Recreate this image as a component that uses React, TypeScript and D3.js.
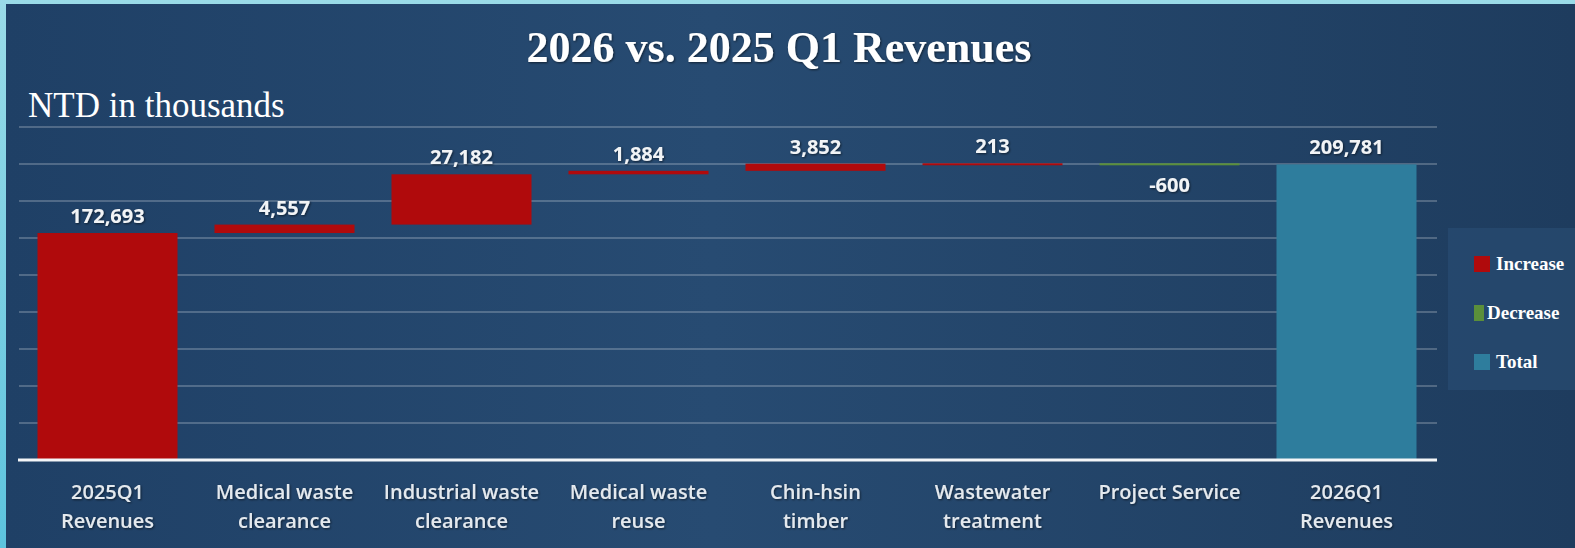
import React from "react";
import * as d3 from "d3";

const categories = [
  ["2025Q1", "Revenues"],
  ["Medical waste", "clearance"],
  ["Industrial waste", "clearance"],
  ["Medical waste", "reuse"],
  ["Chin-hsin", "timber"],
  ["Wastewater", "treatment"],
  ["Project Service", ""],
  ["2026Q1", "Revenues"],
];
const values = [172693, 4557, 27182, 1884, 3852, 213, -600, 209781];
const kinds = ["increase", "increase", "increase", "increase", "increase", "increase", "decrease", "total"];
const gridTicks = [50000, 70000, 90000, 110000, 130000, 150000, 170000, 190000, 210000, 230000];
const legendItems = [
  { key: "increase", label: "Increase" },
  { key: "decrease", label: "Decrease" },
  { key: "total", label: "Total" },
];

const W = 1575;
const H = 548;
const colors: Record<string, string> = {
  increase: "#b00a0c",
  decrease: "#5b8f3a",
  total: "#2e7d9d",
};

export default function App() {
  const x = d3
    .scaleBand<number>()
    .domain(d3.range(categories.length))
    .range([19, 1435])
    .paddingInner(0.209)
    .paddingOuter(0.1045);
  const y = d3.scaleLinear().domain([50000, 230000]).range([460, 127]);

  // waterfall: running start/end for every step
  let run = 0;
  const bars = values.map((v, i) => {
    let lo: number, hi: number;
    if (kinds[i] === "total") {
      lo = 0;
      hi = v;
      run = v;
    } else {
      lo = Math.min(run, run + v);
      hi = Math.max(run, run + v);
      run += v;
    }
    return { i, v, lo, hi, kind: kinds[i] };
  });

  const fmt = (v: number) => d3.format(",")(v).replace("\u2212", "-");
  const yc = (v: number) => Math.min(y(Math.max(v, y.domain()[0])), 460);

  return (
    <svg width={W} height={H} style={{ position: "absolute", left: 0, top: 0, display: "block" }}>
      <defs>
        <linearGradient id="bg" x1="0" x2="1" y1="0" y2="0">
          <stop offset="0" stopColor="#1f4066" />
          <stop offset="0.45" stopColor="#274b72" />
          <stop offset="1" stopColor="#1e3c5e" />
        </linearGradient>
        <linearGradient id="edge" x1="0" x2="0" y1="0" y2="1">
          <stop offset="0" stopColor="#9adbe8" />
          <stop offset="1" stopColor="#5cc3de" />
        </linearGradient>
        <filter id="sh" x="-20%" y="-30%" width="140%" height="160%">
          <feDropShadow dx="1" dy="1" stdDeviation="1" floodColor="#000" floodOpacity="0.55" />
        </filter>
      </defs>
      <rect width={W} height={H} fill="url(#edge)" />
      <rect x={6} y={4} width={W - 6} height={H - 4} fill="url(#bg)" />

      <text
        x={779}
        y={62}
        textAnchor="middle"
        fontFamily="'Liberation Serif', serif"
        fontWeight="bold"
        fontSize={44}
        fill="#ffffff"
        filter="url(#sh)"
      >
        2026 vs. 2025 Q1 Revenues
      </text>
      <text x={28} y={117} fontFamily="'Liberation Serif', serif" fontSize={35} fill="#ffffff">
        NTD in thousands
      </text>

      {gridTicks.slice(1).map((t) => (
        <line key={t} x1={19} x2={1437} y1={y(t)} y2={y(t)} stroke="#ffffff" strokeOpacity={0.22} strokeWidth={2} />
      ))}

      {bars.map((b) => {
        const top = yc(b.hi);
        const bot = yc(b.lo);
        const h = Math.max(bot - top, 2);
        return (
          <rect
            key={b.i}
            x={x(b.i)}
            y={top}
            width={x.bandwidth()}
            height={h}
            fill={colors[b.kind]}
          />
        );
      })}

      <line x1={18} x2={1437} y1={460} y2={460} stroke="#f4f6f8" strokeWidth={3} />

      {bars.map((b) => {
        const cx = (x(b.i) as number) + x.bandwidth() / 2;
        const ly = b.v < 0 ? yc(b.lo) + 28 : yc(b.hi) - 10;
        return (
          <text
            key={b.i}
            x={cx}
            y={ly}
            textAnchor="middle"
            fontFamily="'Open Sans', sans-serif"
            fontWeight="bold"
            fontSize={20}
            fill="#f2f4f6"
            filter="url(#sh)"
          >
            {fmt(b.v)}
          </text>
        );
      })}

      {categories.map((c, i) => {
        const cx = (x(i) as number) + x.bandwidth() / 2;
        return (
          <text
            key={i}
            textAnchor="middle"
            fontFamily="'Open Sans', sans-serif"
            fontWeight={600}
            fontSize={20}
            fill="#e4e9ee"
            filter="url(#sh)"
          >
            <tspan x={cx} y={499}>
              {c[0]}
            </tspan>
            <tspan x={cx} y={528}>
              {c[1]}
            </tspan>
          </text>
        );
      })}

      <rect x={1448} y={228} width={W - 1448} height={162} fill="#2a4e74" opacity={0.6} />
      {legendItems.map((d, i) => {
        const ly = 270 + i * 49;
        return (
          <g key={d.key}>
            <rect x={1474} y={ly - 14} width={d.key === "decrease" ? 10 : 16} height={16} fill={colors[d.key]} />
            <text
              x={d.key === "decrease" ? 1487 : 1496}
              y={ly}
              fontFamily="'Liberation Serif', serif"
              fontWeight="bold"
              fontSize={19}
              fill="#ffffff"
            >
              {d.label}
            </text>
          </g>
        );
      })}
    </svg>
  );
}
